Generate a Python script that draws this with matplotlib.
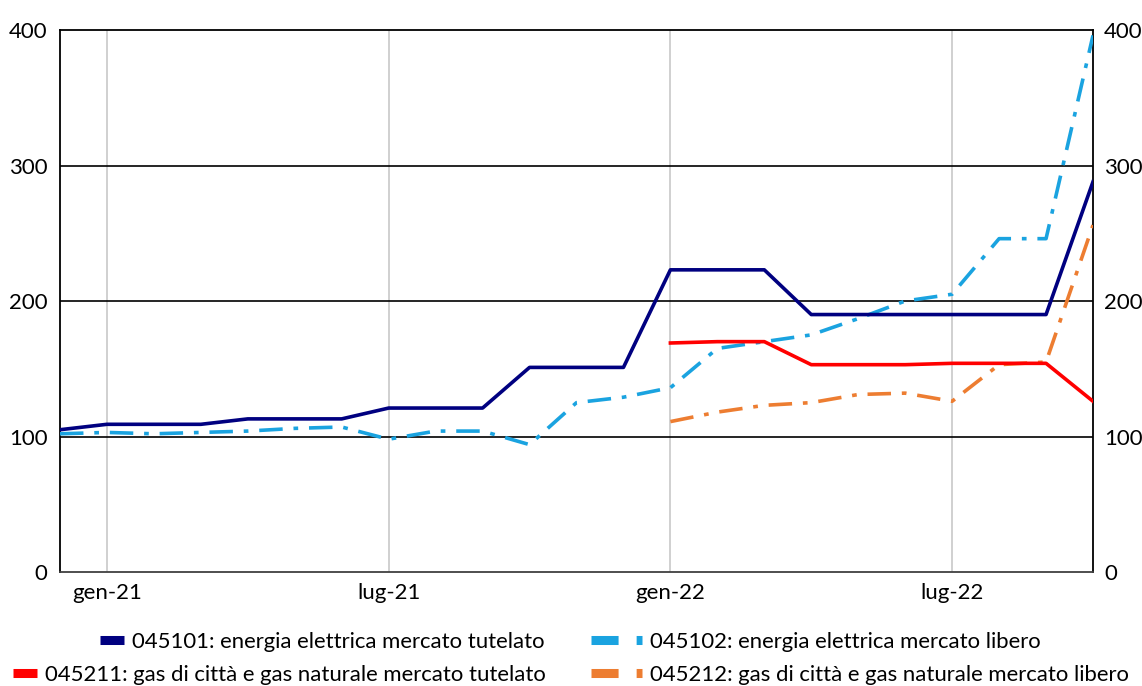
import numpy as np
import matplotlib.pyplot as plt
from matplotlib.lines import Line2D

plt.rcParams['font.family'] = ['Lato', 'DejaVu Sans']

# monthly index, dic-20 .. ott-22
months = ['dic-20', 'gen-21', 'feb-21', 'mar-21', 'apr-21', 'mag-21', 'giu-21',
          'lug-21', 'ago-21', 'set-21', 'ott-21', 'nov-21', 'dic-21',
          'gen-22', 'feb-22', 'mar-22', 'apr-22', 'mag-22', 'giu-22',
          'lug-22', 'ago-22', 'set-22', 'ott-22']
tick_labels = ['gen-21', 'lug-21', 'gen-22', 'lug-22']

nan = np.nan
ee_tutelato = [105, 109, 109, 109, 113, 113, 113, 121, 121, 121, 151, 151, 151,
               223, 223, 223, 190, 190, 190, 190, 190, 190, 288]
ee_libero = [102, 103, 102, 103, 104, 106, 107, 98, 104, 104, 94, 125, 129,
             136, 165, 170, 175, 187, 200, 205, 246, 246, 396]
gas_tutelato = [nan] * 13 + [169, 170, 170, 153, 153, 153, 154, 154, 154, 126]
gas_libero = [nan] * 13 + [111, 118, 123, 125, 131, 132, 126, 153, 155, 256]

labels = ['045101: energia elettrica mercato tutelato',
          '045102: energia elettrica mercato libero',
          '045211: gas di città e gas naturale mercato tutelato',
          '045212: gas di città e gas naturale mercato libero']
colors = ['#000080', '#1AA3E0', '#FF0000', '#ED7D31']

W, H = 1142, 686
fig = plt.figure(figsize=(W / 100, H / 100), dpi=100)
ax = fig.add_axes([60 / W, 1 - 572 / H, 1033 / W, 542 / H])

x = np.arange(len(months))
dashdot = (0, (6.5, 3, 1.3, 3))
ax.plot(x, ee_tutelato, color=colors[0], lw=2.6, zorder=4)
ax.plot(x, ee_libero, color=colors[1], lw=2.6, ls=dashdot, zorder=3)
ax.plot(x, gas_tutelato, color=colors[2], lw=2.6, zorder=4)
ax.plot(x, gas_libero, color=colors[3], lw=2.6, ls=dashdot, zorder=3)

ax.set_xlim(0, len(months) - 1)
ax.set_ylim(0, 400)
ax.set_yticks([0, 100, 200, 300, 400])
ax.set_xticks([months.index(m) for m in tick_labels])
ax.set_xticklabels(tick_labels)
ax.tick_params(length=0, labelsize=16, pad=8)
ax.tick_params(axis='y', pad=9)

for v in [100, 200, 300]:
    ax.axhline(v, color='black', lw=1.2, zorder=1)
for t in ax.get_xticks():
    ax.axvline(t, color='#C8C8C8', lw=1.2, zorder=0)
for s in ax.spines.values():
    s.set_color('black')
    s.set_linewidth(1.3)
ax.spines['bottom'].set_color('#404040')

ax2 = ax.twinx()
ax2.set_ylim(0, 400)
ax2.set_yticks([0, 100, 200, 300, 400])
ax2.tick_params(length=0, labelsize=16, pad=8)
for s in ax2.spines.values():
    s.set_visible(False)

# one legend box per entry, each placed on its own
handles = [
    Line2D([0], [0], color=colors[0], lw=6.5, solid_capstyle='butt'),
    Line2D([0], [0], color=colors[1], lw=6.5, ls=(0, (3, 2, 0.7, 5))),
    Line2D([0], [0], color=colors[2], lw=6.5, solid_capstyle='butt'),
    Line2D([0], [0], color=colors[3], lw=6.5, ls=(0, (3, 2, 0.7, 5))),
]
hlen = [1.08, 2.3, 1.08, 2.3]
pos = [(100, 642), (591, 642), (13, 675), (591, 675)]
for h, lab, hl, (px, py) in zip(handles, labels, hlen, pos):
    fig.legend([h], [lab], loc='center left',
               bbox_to_anchor=(px / W, 1 - py / H),
               frameon=False, fontsize=15.9, handlelength=hl,
               handletextpad=0.35, borderpad=0, borderaxespad=0)

fig.savefig('out.png', dpi=100)
